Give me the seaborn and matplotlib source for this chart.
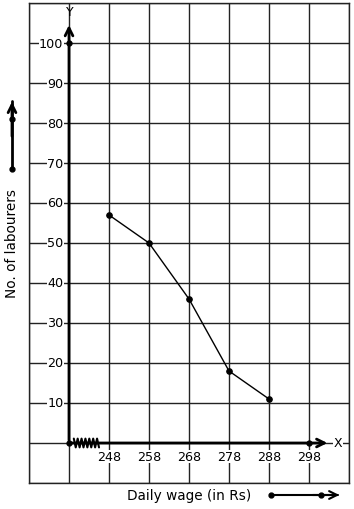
import numpy as np
import pandas as pd
import matplotlib.pyplot as plt
import seaborn as sns

# daily wage (Rs) vs number of labourers
wages = [248, 258, 268, 278, 288]
labourers = [57, 50, 36, 18, 11]
x_ticks = [248, 258, 268, 278, 288, 298]
y_ticks = [10, 20, 30, 40, 50, 60, 70, 80, 90, 100]

df = pd.DataFrame({'wage': wages, 'labourers': labourers})

sns.set_style('white')
plt.rcParams['font.family'] = ['DejaVu Sans']
plt.rcParams['text.color'] = 'black'

W, H = 354, 510
fig = plt.figure(figsize=(W / 100, H / 100), dpi=100)
ax = fig.add_axes([29 / W, 1 - 484 / H, 320 / W, 480 / H])

origin = 238  # broken x axis, origin drawn one cell before 248
ax.set_xlim(228, 308)
ax.set_ylim(-10, 110)
ax.set_xticks(np.arange(228, 309, 10))
ax.set_yticks(np.arange(-10, 111, 10))
ax.grid(True, color='#222222', linewidth=1.0)
ax.tick_params(length=0, labelbottom=False, labelleft=False)
for s in ax.spines.values():
    s.set_color('#222222')
    s.set_linewidth(1.0)

# axes with arrows
ax.annotate('', xy=(origin, 105.2), xytext=(origin, 0),
            arrowprops=dict(arrowstyle='->', lw=2, color='black', mutation_scale=14))
ax.annotate('', xy=(303.3, 0), xytext=(origin, 0),
            arrowprops=dict(arrowstyle='->', lw=2, color='black', mutation_scale=14))
ax.text(origin + 0.3, 108.0, 'Y', ha='center', va='center', fontsize=9, zorder=10)
ax.text(305.3, 0, 'X', ha='center', va='center', fontsize=9,
        bbox=dict(facecolor='white', edgecolor='none', pad=0.5))

# kink on the x axis
zx = np.linspace(239.2, 245.5, 14)
zy = np.array([1, -1] * 7) * 1.1
ax.plot(zx, zy, color='black', lw=1.5, zorder=5)

# tick labels with white background over the grid
for v in y_ticks:
    ax.text(236.6, v, str(v), ha='right', va='center', fontsize=9.2,
            bbox=dict(facecolor='white', edgecolor='none', pad=0.3))
for v in x_ticks:
    ax.text(v, -3.4, str(v), ha='center', va='center', fontsize=9.2,
            bbox=dict(facecolor='white', edgecolor='none', pad=0.3))

ax.plot([origin, origin, 298], [0, 100, 0], 'o', color='black', ms=3.5, zorder=6)

sns.lineplot(data=df, x='wage', y='labourers', ax=ax, color='black', lw=1,
             marker='o', markersize=4, markeredgecolor='black', zorder=7)
ax.set_xlabel('')
ax.set_ylabel('')

# outside labels with arrows
fig.text(12 / W, 1 - 244 / H, 'No. of labourers', rotation=90, ha='center',
         va='center', fontsize=9.8)
fig.text(189 / W, 1 - 496 / H, 'Daily wage (in Rs)', ha='center',
         va='center', fontsize=9.8)
fig.add_artist(plt.Line2D([12 / W, 12 / W], [1 - 170 / H, 1 - 102 / H], color='black', lw=2))
fig.add_artist(plt.Line2D([12 / W, 12 / W], [1 - 170 / H, 1 - 120 / H], color='black',
                          lw=0, marker='o', ms=3.5))
ax.annotate('', xy=(12 / W, 1 - 100 / H), xytext=(12 / W, 1 - 140 / H),
            xycoords='figure fraction',
            arrowprops=dict(arrowstyle='->', lw=2, color='black', mutation_scale=14))
fig.add_artist(plt.Line2D([271 / W, 338 / W], [1 - 496 / H, 1 - 496 / H], color='black', lw=1.5))
fig.add_artist(plt.Line2D([271 / W, 321 / W], [1 - 496 / H, 1 - 496 / H], color='black',
                          lw=0, marker='o', ms=3.5))
ax.annotate('', xy=(342 / W, 1 - 496 / H), xytext=(310 / W, 1 - 496 / H),
            xycoords='figure fraction',
            arrowprops=dict(arrowstyle='->', lw=1.5, color='black', mutation_scale=14))

fig.savefig('out.png', dpi=100)
